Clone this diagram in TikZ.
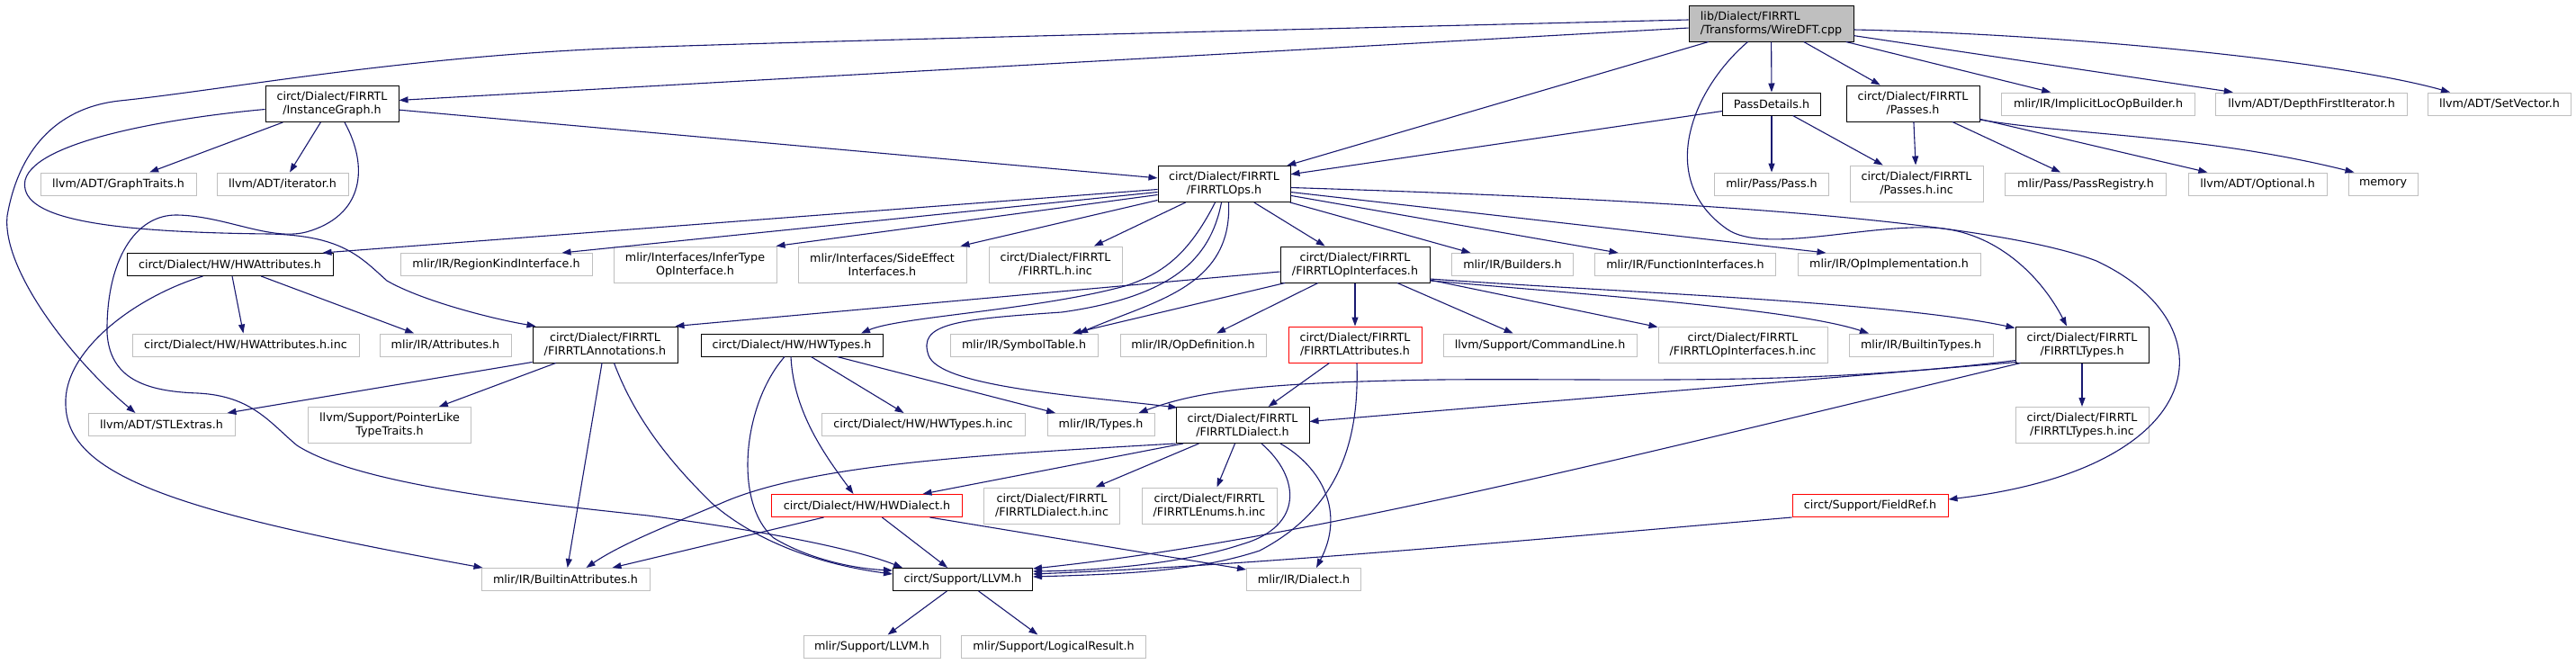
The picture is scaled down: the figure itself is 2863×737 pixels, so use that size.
\documentclass[tikz,border=0pt]{standalone}
\usepackage{fontspec}
\usetikzlibrary{arrows.meta}
\newfontfamily\dvsans{DejaVu Sans}
\newcommand\nodefont{\dvsans\fontsize{12.7pt}{15pt}\selectfont}
\definecolor{edgeblue}{HTML}{191970}
\definecolor{extgray}{HTML}{BFBFBF}
\definecolor{rootgray}{HTML}{BFBFBF}
\tikzset{
  x=1pt, y=-1pt,
  nbase/.style={rectangle, inner sep=0pt, font=\nodefont, line width=1pt, align=center, minimum height=25pt},
  docnode/.style={nbase, draw=black},
  extnode/.style={nbase, draw=extgray},
  trnode/.style={nbase, draw=red},
  rootnode/.style={nbase, draw=black, fill=rootgray, align=left},
  tall/.style={minimum height=40pt},
  conn/.style={draw=edgeblue, line width=1.1pt, -{Triangle[length=10pt,width=7pt]}},
}
\begin{document}
\begin{tikzpicture}
\fill[white] (0,0) rectangle (2863,737);
\useasboundingbox (0,0) rectangle (2863,737);
% row 0
\node[rootnode, tall, minimum width=183pt] (W) at (1968.5,26) {lib/Dialect/FIRRTL\\/Transforms/WireDFT.cpp};
% row 1
\node[docnode, tall, minimum width=148pt] (IG) at (369,115.5) {circt/Dialect/FIRRTL\\/InstanceGraph.h};
\node[docnode, minimum width=109pt] (PD) at (1969,115.5) {PassDetails.h};
\node[docnode, tall, minimum width=148pt] (PS) at (2126,115) {circt/Dialect/FIRRTL\\/Passes.h};
\node[extnode, minimum width=215pt] (ILB) at (2332,115.5) {mlir/IR/ImplicitLocOpBuilder.h};
\node[extnode, minimum width=213pt] (DFI) at (2569,115.5) {llvm/ADT/DepthFirstIterator.h};
\node[extnode, minimum width=159pt] (SV) at (2778,115.5) {llvm/ADT/SetVector.h};
% row 2
\node[extnode, minimum width=173pt] (GT) at (131.5,204.5) {llvm/ADT/GraphTraits.h};
\node[extnode, minimum width=146pt] (IT) at (314,204.5) {llvm/ADT/iterator.h};
\node[docnode, tall, minimum width=147pt] (O) at (1360.5,204.5) {circt/Dialect/FIRRTL\\/FIRRTLOps.h};
\node[extnode, minimum width=127pt] (PH) at (1969,204.5) {mlir/Pass/Pass.h};
\node[extnode, tall, minimum width=148pt] (PSI) at (2130,204) {circt/Dialect/FIRRTL\\/Passes.h.inc};
\node[extnode, minimum width=179pt] (PR) at (2318,204.5) {mlir/Pass/PassRegistry.h};
\node[extnode, minimum width=154pt] (OPT) at (2509,204.5) {llvm/ADT/Optional.h};
\node[extnode, minimum width=77pt] (MEM) at (2648.5,204.5) {memory};
% row 3
\node[docnode, minimum width=229pt] (HWA) at (255.5,294) {circt/Dialect/HW/HWAttributes.h};
\node[extnode, minimum width=213pt] (RKI) at (551.5,294) {mlir/IR/RegionKindInterface.h};
\node[extnode, tall, minimum width=181pt] (ITO) at (772.5,294) {mlir/Interfaces/InferType\\OpInterface.h};
\node[extnode, tall, minimum width=187pt] (SEI) at (980.5,294) {mlir/Interfaces/SideEffect\\Interfaces.h};
\node[extnode, tall, minimum width=148pt] (FHI) at (1173,294) {circt/Dialect/FIRRTL\\/FIRRTL.h.inc};
\node[docnode, tall, minimum width=166pt] (OI) at (1506,294) {circt/Dialect/FIRRTL\\/FIRRTLOpInterfaces.h};
\node[extnode, minimum width=135pt] (BLD) at (1681,294) {mlir/IR/Builders.h};
\node[extnode, minimum width=201pt] (FI) at (1873,294) {mlir/IR/FunctionInterfaces.h};
\node[extnode, minimum width=203pt] (OPI) at (2099.5,294) {mlir/IR/OpImplementation.h};
% row 4
\node[extnode, minimum width=252pt] (HWAI) at (273,383.5) {circt/Dialect/HW/HWAttributes.h.inc};
\node[extnode, minimum width=146pt] (ATT) at (495,383.5) {mlir/IR/Attributes.h};
\node[docnode, tall, minimum width=161pt] (ANN) at (672.5,383) {circt/Dialect/FIRRTL\\/FIRRTLAnnotations.h};
\node[docnode, minimum width=202pt] (HWT) at (880,383.5) {circt/Dialect/HW/HWTypes.h};
\node[extnode, minimum width=164pt] (ST) at (1138,383.5) {mlir/IR/SymbolTable.h};
\node[extnode, minimum width=162pt] (OD) at (1326,383.5) {mlir/IR/OpDefinition.h};
\node[trnode, tall, minimum width=148pt] (FA) at (1506,383) {circt/Dialect/FIRRTL\\/FIRRTLAttributes.h};
\node[extnode, minimum width=215pt] (CL) at (1711.5,383.5) {llvm/Support/CommandLine.h};
\node[extnode, tall, minimum width=188pt] (OII) at (1937,383) {circt/Dialect/FIRRTL\\/FIRRTLOpInterfaces.h.inc};
\node[extnode, minimum width=160pt] (BT) at (2135,383.5) {mlir/IR/BuiltinTypes.h};
\node[docnode, tall, minimum width=148pt] (FT) at (2314,383) {circt/Dialect/FIRRTL\\/FIRRTLTypes.h};
% row 5
\node[extnode, minimum width=163pt] (STL) at (179.5,472) {llvm/ADT/STLExtras.h};
\node[extnode, tall, minimum width=181pt] (PLT) at (433,472.5) {llvm/Support/PointerLike\\TypeTraits.h};
\node[extnode, minimum width=226pt] (HWTI) at (1026,472) {circt/Dialect/HW/HWTypes.h.inc};
\node[extnode, minimum width=119pt] (TY) at (1223.5,472) {mlir/IR/Types.h};
\node[docnode, tall, minimum width=148pt] (FD) at (1381,472.5) {circt/Dialect/FIRRTL\\/FIRRTLDialect.h};
\node[extnode, tall, minimum width=148pt] (FTI) at (2314,472.5) {circt/Dialect/FIRRTL\\/FIRRTLTypes.h.inc};
% row 6
\node[trnode, minimum width=212pt] (HWD) at (963.5,562) {circt/Dialect/HW/HWDialect.h};
\node[extnode, tall, minimum width=151pt] (FDI) at (1169,562) {circt/Dialect/FIRRTL\\/FIRRTLDialect.h.inc};
\node[extnode, tall, minimum width=150pt] (FEI) at (1344,562) {circt/Dialect/FIRRTL\\/FIRRTLEnums.h.inc};
\node[trnode, minimum width=173pt] (FR) at (2078.5,562) {circt/Support/FieldRef.h};
% row 7
\node[extnode, minimum width=187pt] (BA) at (628.5,644) {mlir/IR/BuiltinAttributes.h};
\node[docnode, minimum width=155pt] (LL) at (1070,644) {circt/Support/LLVM.h};
\node[extnode, minimum width=127pt] (DI) at (1449,644) {mlir/IR/Dialect.h};
% row 8
\node[extnode, minimum width=152pt] (MSL) at (969,718.5) {mlir/Support/LLVM.h};
\node[extnode, minimum width=205pt] (LR) at (1171,718.5) {mlir/Support/LogicalResult.h};

% ---- edges from WireDFT.cpp
\draw[conn] (W) -- (IG);
\draw[conn] ([yshift=4pt]W.west) .. controls (1300,36) and (900,46) .. (700,53) .. controls (450,62) and (250,100) .. (133,112) .. controls (60,120) and (20,170) .. (8,240) .. controls (2,300) and (80,400) .. ([xshift=-29pt]STL.north);
\draw[conn] (W) -- (O);
\draw[conn] (W) -- (PD);
\draw[conn] (W) -- (PS);
\draw[conn] (W) -- (ILB);
\draw[conn] (W) -- (DFI);
\draw[conn] ([yshift=-7pt]W.east) .. controls (2300,38) and (2600,68) .. ([xshift=-55pt]SV.north);
\draw[conn] ([xshift=-26pt]W.south) .. controls (1880,100) and (1840,200) .. (1920,255) .. controls (1960,282) and (2070,250) .. (2147,253) .. controls (2220,256) and (2270,310) .. ([xshift=-17pt]FT.north);
% ---- InstanceGraph.h
\draw[conn] (IG) -- (GT);
\draw[conn] (IG) -- (IT);
\draw[conn] (IG) -- (O);
\draw[conn] ([yshift=-6pt]IG.west) .. controls (200,130) and (40,155) .. (28,200) .. controls (20,240) and (100,258) .. (300,260) .. controls (380,262) and (400,285) .. (430,312) .. controls (470,335) and (550,355) .. ([xshift=4pt]ANN.north west);
\draw[conn] ([xshift=14pt]IG.south) .. controls (410,185) and (405,240) .. (340,258) .. controls (300,268) and (250,240) .. (197,239) .. controls (150,238) and (118,290) .. (119,370) .. controls (122,420) and (160,435) .. (220,437) .. controls (280,440) and (300,470) .. (330,495) .. controls (400,540) and (600,560) .. (720,573) .. controls (850,590) and (950,610) .. ([xshift=-67pt]LL.north);
% ---- PassDetails.h / Passes.h
\draw[conn] (PD) -- (O);
\draw[conn] (PD) -- (PH);
\draw[conn] (PD) -- (PSI);
\draw[conn] (PS) -- (PSI);
\draw[conn] (PS) -- (PR);
\draw[conn] (PS) -- (OPT);
\draw[conn] ([yshift=-18pt]PS.east) .. controls (2300,150) and (2450,150) .. ([xshift=-32pt]MEM.north);
% ---- FIRRTLOps.h
\draw[conn] ([yshift=-6pt]O.west) -- ([xshift=-12pt]HWA.north east);
\draw[conn] ([yshift=-9pt]O.west) -- ([xshift=-34pt]RKI.north east);
\draw[conn] ([yshift=-12pt]O.west) -- ([xshift=-1pt]ITO.north east);
\draw[conn] ([yshift=-18pt]O.west) -- ([xshift=-7pt]SEI.north east);
\draw[conn] (O) -- (FHI);
\draw[conn] ([xshift=-10pt]O.south) .. controls (1320,285) and (1290,305) .. (1250,318) .. controls (1150,345) and (1000,352) .. ([xshift=77pt]HWT.north);
\draw[conn] ([xshift=-3pt]O.south) .. controls (1345,290) and (1300,330) .. (1180,347) .. controls (1060,355) and (1020,360) .. (1032,395) .. controls (1045,430) and (1200,440) .. ([xshift=2pt,yshift=-1pt]FD.north west);
\draw[conn] ([xshift=5pt]O.south) .. controls (1370,320) and (1280,335) .. ([xshift=61pt]ST.north);
\draw[conn] (O) -- (OI);
\draw[conn] (O) -- (BLD);
\draw[conn] (O) -- (FI);
\draw[conn] ([yshift=-9pt]O.east) -- ([xshift=-70pt]OPI.north);
\draw[conn] ([yshift=-4pt]O.east) .. controls (1800,220) and (2200,240) .. (2330,290) .. controls (2480,360) and (2460,520) .. ([yshift=7pt]FR.east);
% ---- FIRRTLOpInterfaces.h
\draw[conn] ([yshift=-8pt]OI.west) -- ([xshift=-3pt]ANN.north east);
\draw[conn] ([xshift=-78pt]OI.south) -- ([xshift=54pt]ST.north);
\draw[conn] (OI) -- (OD);
\draw[conn] (OI) -- (FA);
\draw[conn] (OI) -- (CL);
\draw[conn] (OI) -- (OII);
\draw[conn] ([yshift=-18pt]OI.east) .. controls (1800,330) and (2000,345) .. ([xshift=-58pt]BT.north);
\draw[conn] ([yshift=-16pt]OI.east) .. controls (1800,325) and (2100,335) .. ([yshift=-2pt]FT.north west);
% ---- FIRRTLTypes.h
\draw[conn] ([xshift=1pt,yshift=3pt]FT.south west) .. controls (2000,430) and (1800,420) .. (1600,422) .. controls (1400,425) and (1330,435) .. ([xshift=-18pt]TY.north east);
\draw[conn] ([xshift=2pt,yshift=1pt]FT.south west) -- ([yshift=4pt]FD.east);
\draw[conn] ([xshift=6pt]FT.south west) .. controls (1800,510) and (1450,600) .. ([yshift=12pt]LL.east);
\draw[conn] (FT) -- (FTI);
% ---- FIRRTLAttributes.h / FieldRef.h
\draw[conn] (FA) -- (FD);
\draw[conn] ([xshift=2pt]FA.south) .. controls (1510,470) and (1500,560) .. (1400,612) .. controls (1330,635) and (1250,638) .. ([yshift=3pt]LL.east);
\draw[conn] (FR.south west) .. controls (1700,600) and (1400,628) .. ([yshift=6pt]LL.east);
% ---- FIRRTLDialect.h
\draw[conn] ([xshift=-66pt]FD.south) -- ([xshift=62pt]HWD.north);
\draw[conn] (FD.south west) .. controls (1100,505) and (900,515) .. (800,560) .. controls (740,585) and (690,605) .. ([xshift=23pt]BA.north);
\draw[conn] (FD) -- (FDI);
\draw[conn] (FD) -- (FEI);
\draw[conn] ([xshift=21pt]FD.south) .. controls (1445,530) and (1450,585) .. (1380,605) .. controls (1320,625) and (1230,634) .. ([yshift=9pt]LL.east);
\draw[conn] ([xshift=42pt]FD.south) .. controls (1470,520) and (1495,570) .. ([xshift=14pt]DI.north);
% ---- HWTypes.h
\draw[conn] (HWT) -- (HWTI);
\draw[conn] (HWT) -- (TY);
\draw[conn] ([xshift=-1pt]HWT.south) .. controls (882,460) and (920,510) .. ([xshift=-15pt]HWD.north);
\draw[conn] ([xshift=-8pt]HWT.south) .. controls (825,450) and (815,560) .. (860,598) .. controls (900,622) and (950,632) .. ([yshift=10pt]LL.west);
% ---- FIRRTLAnnotations.h
\draw[conn] ([xshift=10pt]ANN.south) .. controls (700,450) and (730,500) .. (792,560) .. controls (850,610) and (930,630) .. ([yshift=6pt]LL.west);
\draw[conn] ([yshift=1pt]ANN.south west) -- ([xshift=-9pt]STL.north east);
\draw[conn] (ANN) -- (PLT);
\draw[conn] (ANN) -- (BA);
% ---- HWAttributes.h
\draw[conn] (HWA) -- (HWAI);
\draw[conn] (HWA) -- (ATT);
\draw[conn] ([xshift=-30pt]HWA.south) .. controls (150,330) and (70,390) .. (73,450) .. controls (75,530) and (200,570) .. ([xshift=-92pt]BA.north);
% ---- HWDialect.h
\draw[conn] (HWD) -- (LL);
\draw[conn] ([xshift=-48pt]HWD.south) -- ([xshift=52pt]BA.north);
\draw[conn] ([xshift=70pt]HWD.south) -- ([yshift=-2pt]DI.north west);
% ---- circt/Support/LLVM.h
\draw[conn] (LL) -- (MSL);
\draw[conn] (LL) -- (LR);
\end{tikzpicture}
\end{document}
